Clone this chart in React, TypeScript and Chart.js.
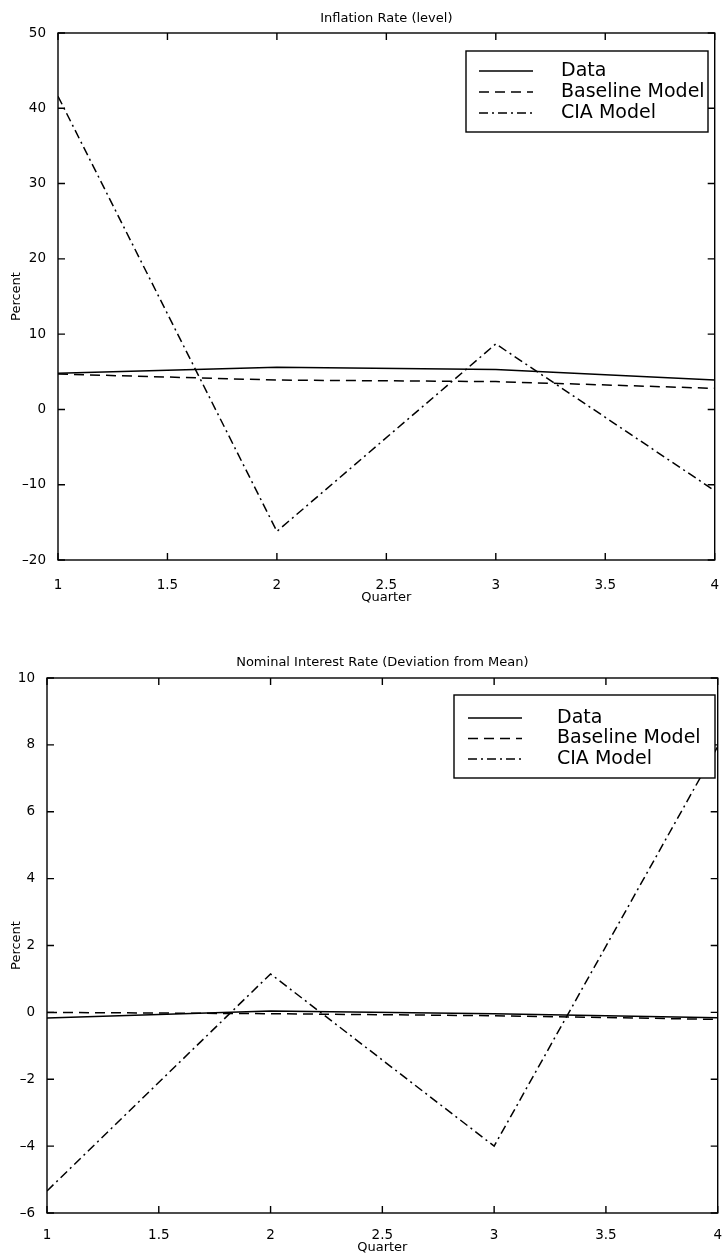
import React, { useEffect, useRef } from "react";
import { Chart, registerables } from "chart.js";

Chart.register(...registerables);

// ---------- data ----------
const quarters = [1, 2, 3, 4];
const xTickValues = [1, 1.5, 2, 2.5, 3, 3.5, 4];
const seriesLabels = ["Data", "Baseline Model", "CIA Model"];

const inflationTitle = "Inflation Rate (level)";
const inflationData = [4.8, 5.6, 5.3, 3.9];
const inflationBaseline = [4.7, 3.9, 3.7, 2.8];
const inflationCIA = [41.6, -16.2, 8.7, -10.8];
const inflationYTicks = [-20, -10, 0, 10, 20, 30, 40, 50];

const interestTitle = "Nominal Interest Rate (Deviation from Mean)";
const interestData = [-0.17, 0.04, -0.04, -0.16];
const interestBaseline = [0.0, -0.04, -0.1, -0.21];
const interestCIA = [-5.34, 1.15, -4.0, 7.95];
const interestYTicks = [-6, -4, -2, 0, 2, 4, 6, 8, 10];

const xAxisTitle = "Quarter";
const yAxisTitle = "Percent";

// ---------- styles ----------
const FONT = "'DejaVu Sans', sans-serif";
const dashes: number[][] = [[], [10, 6], [9, 4, 2, 4]];

Chart.defaults.color = "#000";
Chart.defaults.font.family = FONT;

const fmt = (v: number) => String(v).replace("-", "\u2013");

const boxPlugin = {
  id: "matlabBox",
  afterDatasetsDraw(chart: any, _args: any, opts: any) {
    const { ctx, chartArea: a } = chart;
    const xs = chart.scales.x;
    const ys = chart.scales.y;
    ctx.save();
    ctx.strokeStyle = "#000";
    ctx.lineWidth = 1.4;
    ctx.setLineDash([]);
    ctx.strokeRect(a.left, a.top, a.right - a.left, a.bottom - a.top);
    const L = 7;
    ctx.beginPath();
    xs.ticks.forEach((t: any) => {
      const px = xs.getPixelForValue(t.value);
      ctx.moveTo(px, a.bottom);
      ctx.lineTo(px, a.bottom - L);
      ctx.moveTo(px, a.top);
      ctx.lineTo(px, a.top + L);
    });
    ys.ticks.forEach((t: any) => {
      const py = ys.getPixelForValue(t.value);
      ctx.moveTo(a.left, py);
      ctx.lineTo(a.left + L, py);
      ctx.moveTo(a.right, py);
      ctx.lineTo(a.right - L, py);
    });
    ctx.stroke();

    // legend
    const bx = a.left + opts.left;
    const by = a.top + opts.top;
    ctx.fillStyle = "#fff";
    ctx.fillRect(bx, by, opts.width, opts.height);
    ctx.lineWidth = 1.4;
    ctx.strokeRect(bx, by, opts.width, opts.height);
    ctx.font = `${opts.fontSize}px ${FONT}`;
    ctx.textBaseline = "middle";
    ctx.textAlign = "left";
    chart.data.datasets.forEach((ds: any, i: number) => {
      const ry = by + opts.row0 + i * opts.rowStep;
      ctx.beginPath();
      ctx.setLineDash(ds.borderDash || []);
      ctx.lineWidth = ds.borderWidth;
      ctx.strokeStyle = ds.borderColor;
      ctx.moveTo(bx + opts.s0, ry);
      ctx.lineTo(bx + opts.s1, ry);
      ctx.stroke();
      ctx.setLineDash([]);
      ctx.fillStyle = "#000";
      ctx.fillText(ds.label, bx + opts.textX, ry);
    });
    ctx.restore();
  },
};

function buildConfig(p: any) {
  const series = [p.data, p.baseline, p.cia];
  return {
    type: "line",
    data: {
      datasets: series.map((arr: number[], i: number) => ({
        label: seriesLabels[i],
        data: quarters.map((q, j) => ({ x: q, y: arr[j] })),
        borderColor: "#000",
        borderWidth: 1.5,
        borderDash: dashes[i],
        pointRadius: 0,
        tension: 0,
        fill: false,
      })),
    },
    plugins: [boxPlugin],
    options: {
      responsive: false,
      animation: false,
      layout: { padding: { left: 0, right: p.padRight, top: 0, bottom: 0 } },
      plugins: {
        legend: { display: false },
        tooltip: { enabled: false },
        title: {
          display: true,
          text: p.title,
          fullSize: false,
          color: "#000",
          font: { family: FONT, size: 13, weight: "normal", lineHeight: 1.2 },
          padding: { top: p.titleTop, bottom: p.titleBottom },
        },
        matlabBox: p.legend,
      },
      scales: {
        x: {
          type: "linear",
          min: 1,
          max: 4,
          grid: { display: false },
          border: { display: false },
          afterBuildTicks: (s: any) => {
            s.ticks = xTickValues.map((v) => ({ value: v }));
          },
          afterFit: (s: any) => {
            s.height = p.xHeight;
          },
          ticks: {
            padding: p.xTickPad,
            maxRotation: 0,
            autoSkip: false,
            font: { family: FONT, size: 13.5 },
            color: "#000",
            callback: (v: number) => fmt(v),
          },
          title: {
            display: true,
            text: xAxisTitle,
            color: "#000",
            font: { family: FONT, size: 13, lineHeight: 1 },
            padding: { top: 0, bottom: p.xTitleBottom },
          },
        },
        y: {
          type: "linear",
          min: p.yTicks[0],
          max: p.yTicks[p.yTicks.length - 1],
          grid: { display: false },
          border: { display: false },
          afterBuildTicks: (s: any) => {
            s.ticks = p.yTicks.map((v: number) => ({ value: v }));
          },
          afterFit: (s: any) => {
            s.width = p.yWidth;
          },
          ticks: {
            padding: 4,
            autoSkip: false,
            font: { family: FONT, size: 13.5 },
            color: "#000",
            callback: (v: number) => fmt(v),
          },
          title: {
            display: true,
            text: yAxisTitle,
            color: "#000",
            font: { family: FONT, size: 13, lineHeight: 1.2 },
            padding: { top: 9, bottom: 0 },
          },
        },
      },
    },
  };
}

function Plot({ top, height, params }: { top: number; height: number; params: any }) {
  const ref = useRef<HTMLCanvasElement>(null);
  useEffect(() => {
    const chart = new Chart(ref.current as HTMLCanvasElement, buildConfig(params) as any);
    return () => chart.destroy();
  }, []);
  return (
    <canvas
      ref={ref}
      width={728}
      height={height}
      style={{ position: "absolute", left: 0, top, width: 728, height, display: "block" }}
    />
  );
}

const topParams = {
  title: inflationTitle,
  data: inflationData,
  baseline: inflationBaseline,
  cia: inflationCIA,
  yTicks: inflationYTicks,
  padRight: 5,
  titleTop: 11,
  titleBottom: 6.4,
  xHeight: 50,
  xTickPad: 9,
  xTitleBottom: 6,
  yWidth: 58,
  legend: { left: 408, top: 18, width: 242, height: 81, row0: 20, rowStep: 21, s0: 13, s1: 67, textX: 95, fontSize: 19 },
};

const bottomParams = {
  title: interestTitle,
  data: interestData,
  baseline: interestBaseline,
  cia: interestCIA,
  yTicks: interestYTicks,
  padRight: 7,
  titleTop: 15.2,
  titleBottom: 7.2,
  xHeight: 41,
  xTickPad: 6,
  xTitleBottom: 0,
  yWidth: 47,
  legend: { left: 407, top: 17, width: 261, height: 83, row0: 23, rowStep: 20.5, s0: 14, s1: 68, textX: 103, fontSize: 19 },
};

export default function App() {
  return (
    <div style={{ position: "absolute", left: 0, top: 0, width: 728, height: 1254, background: "#fff", overflow: "hidden" }}>
      <Plot top={0} height={610} params={topParams} />
      <Plot top={640} height={614} params={bottomParams} />
    </div>
  );
}
